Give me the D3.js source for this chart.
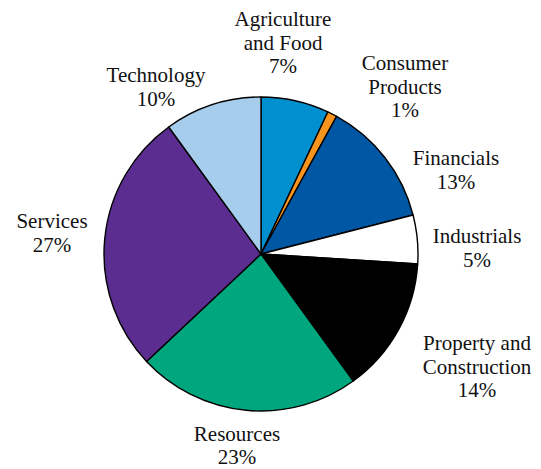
<!DOCTYPE html>
<html>
<head>
<meta charset="utf-8">
<script src="https://cdn.jsdelivr.net/npm/d3@7"></script>
<style>
  html, body { margin: 0; padding: 0; background: #fff; }
</style>
</head>
<body>
<svg id="chart" width="541" height="469"></svg>
<script>
// Sector shares, clockwise from 12 o'clock
const sectors = ["Agriculture and Food", "Consumer Products", "Financials", "Industrials",
                 "Property and Construction", "Resources", "Services", "Technology"];
const shares = [7, 1, 13, 5, 14, 23, 27, 10];
const colors = ["#0090d0", "#f7941d", "#0057a3", "#ffffff", "#000000", "#00a67e", "#5c2d91", "#a6cdeb"];
// Label text lines and anchor points (centre x, first baseline y)
const labelLines = [["Agriculture", "and Food"], ["Consumer", "Products"], ["Financials"], ["Industrials"],
                    ["Property and", "Construction"], ["Resources"], ["Services"], ["Technology"]];
const labelPos = [[283, 26], [405, 70], [456, 165], [477, 243], [477, 350], [237, 441], [52, 228], [156, 82]];

const svg = d3.select("#chart");
const cx = 261, cy = 254, r = 157;

const pie = d3.pie().sort(null).value(d => d.value);
const arc = d3.arc().innerRadius(0).outerRadius(r);
const data = sectors.map((s, i) => ({ name: s, value: shares[i], color: colors[i] }));

const g = svg.append("g").attr("transform", `translate(${cx},${cy})`);
g.selectAll("path")
  .data(pie(data))
  .join("path")
  .attr("d", arc)
  .attr("fill", d => d.data.color)
  .attr("stroke", "#000")
  .attr("stroke-width", 1.4)
  .attr("stroke-linejoin", "round");

const lineH = 23.5;
data.forEach((d, i) => {
  const t = svg.append("text")
    .attr("font-family", "Liberation Serif")
    .attr("font-size", 21)
    .attr("fill", "#111")
    .attr("text-anchor", "middle")
    .attr("x", labelPos[i][0])
    .attr("y", labelPos[i][1]);
  const lines = labelLines[i].concat([d.value + "%"]);
  lines.forEach((ln, j) => {
    t.append("tspan")
      .attr("x", labelPos[i][0])
      .attr("dy", j === 0 ? 0 : (i === 5 ? 22.5 : lineH))
      .text(ln);
  });
});
</script>
</body>
</html>
